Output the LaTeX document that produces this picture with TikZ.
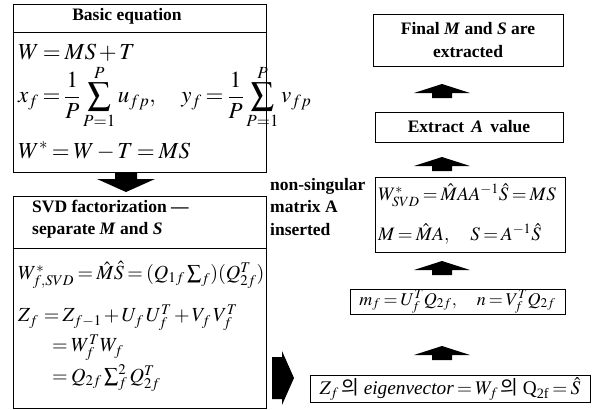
\documentclass[tikz,border=0pt]{standalone}
\usepackage{amsmath}
\usepackage{mathptmx}
\usepackage{fontspec}
\setmainfont{Liberation Serif}
\newfontfamily\krfont{Noto Sans CJK KR}
\thickmuskip=3mu plus 2mu
\medmuskip=2mu plus 1mu
\begin{document}
\begin{tikzpicture}[x=1pt,y=-1pt,
  box/.style={draw, line width=0.7pt, inner sep=0pt},
  hdr/.style={font=\bfseries\fontsize{17.5}{22.5}\selectfont},
  mbig/.style={font=\fontsize{23}{27}\selectfont, inner sep=0pt, anchor=west},
  mmid/.style={font=\fontsize{20}{24}\selectfont, inner sep=0pt, anchor=west},
  mright/.style={font=\fontsize{19}{23}\selectfont, inner sep=0pt, anchor=west},
  uparr/.pic={\fill (-10,0) -- (-10,-5) -- (-28,-5) -- (0,-14) -- (28,-5) -- (10,-5) -- (10,0) -- cycle;},
  downarr/.pic={\fill (-11,0) -- (-11,6) -- (-29,6) -- (0,19) -- (29,6) -- (11,6) -- (11,0) -- cycle;},
  rightarr/.pic={\fill (0,-21) -- (10,-21) -- (10,-27) -- (22,0) -- (10,27) -- (10,21) -- (0,21) -- cycle;}
]
\useasboundingbox (0,0) rectangle (598,410);

% ---- Box 1: Basic equation
\node[box, minimum width=253pt, minimum height=28pt, anchor=north west] (b1h) at (13,4) {};
\node[hdr, inner sep=0pt] (b1t) at (127,16) {Basic equation};
\node[box, minimum width=253pt, minimum height=140pt, anchor=north west] (b1b) at (13,32) {};
\node[mbig] (e1) at (18,53) {$W = MS + T$};
\node[mbig] (e2) at (18,97) {$x_f = \dfrac{1}{P}\displaystyle\sum_{P=1}^{P} u_{fp},\quad y_f = \dfrac{1}{P}\displaystyle\sum_{P=1}^{P} v_{fp}$};
\node[mbig] (e3) at (18,151) {$W^{*} = W - T = MS$};

% ---- arrow down
\coordinate (ad) at (126,173);
\pic at (ad) {downarr};

% ---- Box 2: SVD
\node[box, minimum width=253pt, minimum height=52pt, anchor=north west] (b2h) at (13,196) {};
\node[hdr, align=left, anchor=west, inner sep=0pt] (b2t) at (32,219) {SVD factorization ---\\separate \textit{M} and \textit{S}};
\node[box, minimum width=253pt, minimum height=160pt, anchor=north west] (b2b) at (13,248) {};
\node[mmid] (s1) at (18,275) {$W^{*}_{f,SVD} = \hat{M}\hat{S} = (Q_{1f}\textstyle\sum_f)(Q^{T}_{2f})$};
\node[mmid] (s2) at (18,318) {$Z_f\, = Z_{f-1} + U_f\,U_f^{T} + V_f\,V_f^{T}$};
\node[mmid] (s3) at (52,348) {$= W_f^{T}W_f$};
\node[mmid] (s4) at (52,378) {$= Q_{2f}\textstyle\sum_f^{2} Q_{2f}^{T}$};

% ---- side label
\node[hdr, align=left, anchor=north west, inner sep=0pt] (lbl) at (270,178) {non-singular\\matrix A\\inserted};

% ---- right arrow
\coordinate (ar) at (272,378);
\pic at (ar) {rightarr};

% ---- right column
\node[box, hdr, align=center, minimum width=190pt, minimum height=52pt] (r1) at (468,40) {Final \textit{M} and \textit{S} are\\extracted};
\coordinate (u1) at (442,98);
\pic at (u1) {uparr};
\node[box, hdr, minimum width=188pt, minimum height=30pt] (r2) at (469,127) {Extract \,\textit{A}\, value};
\coordinate (u2) at (442,171);
\pic at (u2) {uparr};
\node[box, minimum width=190pt, minimum height=75pt] (r3) at (470,214.5) {};
\node[mright] (w1) at (378,195) {$W^{*}_{SVD} = \hat{M}AA^{-1}\hat{S} = MS$};
\node[mright] (w2) at (378,234) {$M = \hat{M}A,\quad S = A^{-1}\hat{S}$};
\coordinate (u3) at (442,275);
\pic at (u3) {uparr};
\node[box, font=\fontsize{18}{22}\selectfont, anchor=center, minimum width=215pt, minimum height=25pt] (r4) at (457.5,301.5) {$m_f = U^{T}_{f}Q_{2f},\quad n = V^{T}_{f}Q_{2f}$};
\coordinate (u4) at (442,360);
\pic at (u4) {uparr};
\node[box, font=\fontsize{19.3}{23}\selectfont, anchor=center, minimum width=280pt, minimum height=27pt] (r5) at (450,389) {$Z_f\,\text{\krfont 의}\ \text{\textit{eigenvector}} = W_f\,\text{\krfont 의}\ \text{Q}_{\text{2f}} = \hat{S}$};
\end{tikzpicture}
\end{document}
